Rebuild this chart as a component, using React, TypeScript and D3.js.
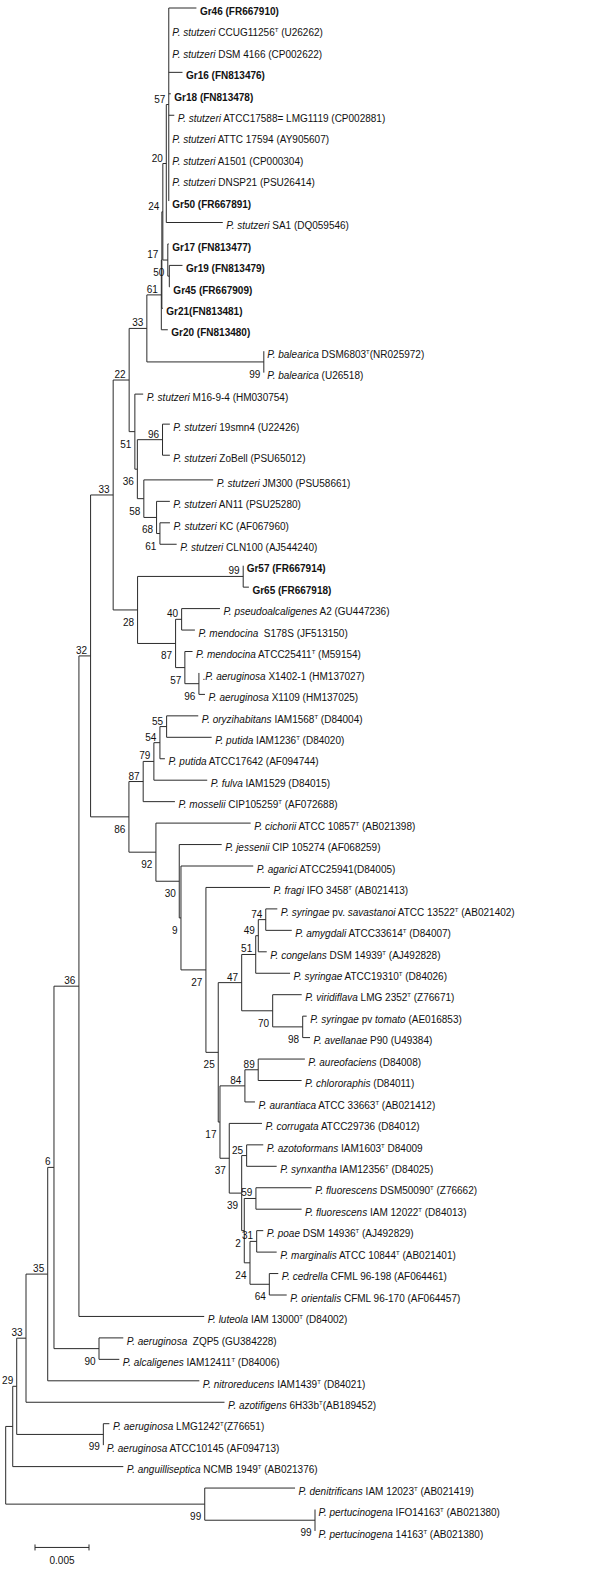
import React, { useMemo } from 'react';
import * as d3 from 'd3';

// ---------------- DATA ----------------
// Leaf labels, in tree order. _..._ = italic, ^T = superscript "T"
const LEAF_LABELS: string[] = [
  'Gr46 (FR667910)',
  '_P. stutzeri_ CCUG11256^T (U26262)',
  '_P. stutzeri_ DSM 4166 (CP002622)',
  'Gr16 (FN813476)',
  'Gr18 (FN813478)',
  '_P. stutzeri_ ATCC17588= LMG1119 (CP002881)',
  '_P. stutzeri_ ATTC 17594 (AY905607)',
  '_P. stutzeri_ A1501 (CP000304)',
  '_P. stutzeri_ DNSP21 (PSU26414)',
  'Gr50 (FR667891)',
  '_P. stutzeri_ SA1 (DQ059546)',
  'Gr17 (FN813477)',
  'Gr19 (FN813479)',
  'Gr45 (FR667909)',
  'Gr21(FN813481)',
  'Gr20 (FN813480)',
  '_P. balearica_ DSM6803^T(NR025972)',
  '_P. balearica_ (U26518)',
  '_P. stutzeri_ M16-9-4 (HM030754)',
  '_P. stutzeri_ 19smn4 (U22426)',
  '_P. stutzeri_ ZoBell (PSU65012)',
  '_P. stutzeri_ JM300 (PSU58661)',
  '_P. stutzeri_ AN11 (PSU25280)',
  '_P. stutzeri_ KC (AF067960)',
  '_P. stutzeri_ CLN100 (AJ544240)',
  'Gr57 (FR667914)',
  'Gr65 (FR667918)',
  '_P. pseudoalcaligenes_ A2 (GU447236)',
  '_P. mendocina_  S178S (JF513150)',
  '_P. mendocina_ ATCC25411^T (M59154)',
  '._P. aeruginosa_ X1402-1 (HM137027)',
  '_P. aeruginosa_ X1109 (HM137025)',
  '_P. oryzihabitans_ IAM1568^T (D84004)',
  '_P. putida_ IAM1236^T (D84020)',
  '_P. putida_ ATCC17642 (AF094744)',
  '_P. fulva_ IAM1529 (D84015)',
  '_P. mosselii_ CIP105259^T (AF072688)',
  '_P. cichorii_ ATCC 10857^T (AB021398)',
  '_P. jessenii_ CIP 105274 (AF068259)',
  '_P. agarici_ ATCC25941(D84005)',
  '_P. fragi_ IFO 3458^T (AB021413)',
  '_P. syringae_ pv. _savastanoi_ ATCC 13522^T (AB021402)',
  '_P. amygdali_ ATCC33614^T (D84007)',
  '_P. congelans_ DSM 14939^T (AJ492828)',
  '_P. syringae_ ATCC19310^T (D84026)',
  '_P. viridiflava_ LMG 2352^T (Z76671)',
  '_P. syringae_ pv _tomato_ (AE016853)',
  '_P. avellanae_ P90 (U49384)',
  '_P. aureofaciens_ (D84008)',
  '_P. chlororaphis_ (D84011)',
  '_P. aurantiaca_ ATCC 33663^T (AB021412)',
  '_P. corrugata_ ATCC29736 (D84012)',
  '_P. azotoformans_ IAM1603^T D84009',
  '_P. synxantha_ IAM12356^T (D84025)',
  '_P. fluorescens_ DSM50090^T (Z76662)',
  '_P. fluorescens_ IAM 12022^T (D84013)',
  '_P. poae_ DSM 14936^T (AJ492829)',
  '_P. marginalis_ ATCC 10844^T (AB021401)',
  '_P. cedrella_ CFML 96-198 (AF064461)',
  '_P. orientalis_ CFML 96-170 (AF064457)',
  '_P. luteola_ IAM 13000^T (D84002)',
  '_P. aeruginosa_  ZQP5 (GU384228)',
  '_P. alcaligenes_ IAM12411^T (D84006)',
  '_P. nitroreducens_ IAM1439^T (D84021)',
  '_P. azotifigens_ 6H33b^T(AB189452)',
  '_P. aeruginosa_ LMG1242^T(Z76651)',
  '_P. aeruginosa_ ATCC10145 (AF094713)',
  '_P. anguilliseptica_ NCMB 1949^T (AB021376)',
  '_P. denitrificans_ IAM 12023^T (AB021419)',
  '_P. pertucinogena_ IFO14163^T (AB021380)',
  '_P. pertucinogena_ 14163^T (AB021380)',
];

// extra vertical spacing (in rows) before some leaves
const ROW_GAPS: [number, number][] = [[19, 0.4], [20, 0.45], [21, 0.15]];

// Tree topology (Newick; leaves Lk = LEAF_LABELS[k]; internal names = bootstrap values; branch lengths in substitutions/site)
const CLADE_STUTZERI_TOP =
  '((((((L0:0.00256,L1:0,L2:0,L3:0.00127,L4:0.00019,L5:0.00051,L6:0,L7:0,L8:0,L9:0)57:0.00023,L10:0.00523)20:0.00032,' +
  '(L11:0.00009,(L12:0.00122,L13:0.00005):0.00014)50:0.00046)24:0.00009,L14:0.00009)17:0.00005,L15:0.0006)61:0.00134,' +
  '(L16:0,L17:0)99:0.01083)33';
const CLADE_STUTZERI_LOW =
  '(L18:0.00077,((L19:0.00068,L20:0.00068)96:0.00233,(L21:0.00642,(L22:0.00123,(L23:0.00093,L24:0.00155)61:0.00031)68:0.00118)58:0.0006)36:0.00023)51';
const CLADE_MENDOCINA =
  '((L25:0,L26:0.00053)99:0.00978,((L27:0.00355,L28:0.00123)40:0.00056,(L29:0.00071,(L30:0,L31:0.00056)96:0.0013)57:0.00086)87:0.00352)28';
const CLADE_SYRINGAE =
  '((((L41:0.00107,L42:0.00241)74:0.00069,L43:0.00078)49:0.00024,L44:0.00318)51:0.0013,(L45:0.00269,(L46:0.00037,L47:0.00068)98:0.00278)70:0.00287)47';
const CLADE_FLUORESCENS =
  '(((L48:0.00432,L49:0.00402)89:0.00123,L50:0.00093)84:0.00231,(L51:0.00303,((L52:0.00154,L53:0.00278)25:0.00046,' +
  '((L54:0.00516,L55:0.00423)59:0.00108,((L56:0.00061,L57:0.00185)31:0.00062,(L58:0.00083,L59:0.00161)64:0.00179)24:0.00053)2:0.00024)39:0.00115)37:0.00086)17';
const CLADE_PUTIDA =
  '(((((L32:0.00293,L33:0.00417)55:0.00062,L34:0.00046)54:0.00056,L35:0.00494)79:0.00099,L36:0.00294)87:0.00132,' +
  '(L37:0.00877,(L38:0.00393,(L39:0.00669,(L40:0.00593,(' + CLADE_SYRINGAE + ':0.00217,' + CLADE_FLUORESCENS +
  ':0.00016)25:0.00114)27:0.00231)9:0.00016)30:0.00216)92:0.0025)86';
const CLADE_MAIN =
  '(((' + CLADE_STUTZERI_TOP + ':0.00164,' + CLADE_STUTZERI_LOW + ':0.00053)22:0.00148,' + CLADE_MENDOCINA +
  ':0.00226)33:0.00209,' + CLADE_PUTIDA + ':0.00355)32';
const NEWICK =
  '(((((((' + CLADE_MAIN + ':0.00108,L60:0.0116)36:0.00231,(L61:0.00225,L62:0.00188)90:0.00417)6:0.00058,L63:0.01404)35:0.00201,' +
  'L64:0.01838)33:0.00086,(L65:0.00056,L66:0)99:0.00802)29:0.00037,L67:0.01024):0.00065,' +
  '(L68:0.00836,(L69:0,L70:0)99:0.01021)99:0.01843);';

const SCALE_BAR_VALUE = 0.005;
const SCALE_BAR_LABEL = '0.005';

// ---------------- HELPERS ----------------
type NNode = { name: string; length: number; children?: NNode[] };

function parseNewick(src: string): NNode {
  const s = src.replace(/\s+/g, '');
  let i = 0;
  function parseNode(depth: number): NNode {
    const node: NNode = { name: '', length: 0 };
    if (depth > 200) return node;
    if (s[i] === '(') {
      i++;
      node.children = [];
      let guard = 0;
      while (i < s.length && guard++ < 1000) {
        const before = i;
        node.children.push(parseNode(depth + 1));
        if (s[i] === ',') { i++; continue; }
        if (s[i] === ')') { i++; break; }
        if (i === before) { i++; }
        if (i >= s.length) break;
      }
    }
    let name = '';
    while (i < s.length && !',():;'.includes(s[i])) name += s[i++];
    node.name = name;
    if (s[i] === ':') {
      i++;
      let num = '';
      while (i < s.length && !',();'.includes(s[i])) num += s[i++];
      node.length = parseFloat(num) || 0;
    }
    return node;
  }
  return parseNode(0);
}

type Seg = { text: string; italic: boolean; sup: boolean };
function segments(label: string): Seg[] {
  const parts = label.split(/(_[^_]+_|\^T)/).filter((p) => p.length > 0);
  return parts.map((p) => {
    if (p === '^T') return { text: 'T', italic: false, sup: true };
    if (p.startsWith('_') && p.endsWith('_') && p.length > 2) return { text: p.slice(1, -1), italic: true, sup: false };
    return { text: p, italic: false, sup: false };
  });
}

const FONT = "Arial, 'Liberation Sans', Helvetica, sans-serif";
const LINE_COLOR = '#2b2b2b';
const TEXT_COLOR = '#111';

export default function App() {
  const width = 605;
  const height = 1570;

  const layout = useMemo(() => {
    const tree = parseNewick(NEWICK);
    const root = d3.hierarchy<NNode>(tree, (d) => d.children);
    const dist = new Map<any, number>();
    root.each((n) => {
      dist.set(n, (n.parent ? dist.get(n.parent)! : 0) + (n.parent ? n.data.length : 0));
    });

    const x = d3.scaleLinear().domain([0, SCALE_BAR_VALUE]).range([5.7, 5.7 + 54]);

    const rowOf = (k: number) => k + ROW_GAPS.filter(([idx]) => idx <= k).reduce((a, [, g]) => a + g, 0);
    const nRows = rowOf(LEAF_LABELS.length - 1);
    const y = d3.scaleLinear().domain([0, nRows]).range([8, 8 + nRows * 21.45]);

    const pos = new Map<any, { x: number; y: number }>();
    root.eachAfter((n) => {
      const px = x(dist.get(n) || 0);
      if (!n.children) {
        const k = parseInt(n.data.name.slice(1), 10) || 0;
        pos.set(n, { x: px, y: y(rowOf(k)) });
      } else {
        const first = pos.get(n.children[0])!;
        const last = pos.get(n.children[n.children.length - 1])!;
        pos.set(n, { x: px, y: (first.y + last.y) / 2 });
      }
    });

    let path = '';
    root.each((n) => {
      const p = pos.get(n)!;
      if (n.parent) {
        const pp = pos.get(n.parent)!;
        path += `M${pp.x},${p.y}H${p.x}`;
      }
      if (n.children) {
        const f = pos.get(n.children[0])!;
        const l = pos.get(n.children[n.children.length - 1])!;
        path += `M${p.x},${f.y}V${l.y}`;
      }
    });

    const leaves = root.leaves().map((n) => {
      const k = parseInt(n.data.name.slice(1), 10) || 0;
      return { k, ...pos.get(n)!, label: LEAF_LABELS[k] || '' };
    });

    const boots: { x: number; y: number; text: string; below: boolean }[] = [];
    root.each((n) => {
      if (n.children && n.data.name && n.parent) {
        const sib = n.parent.children!;
        const below = sib.length > 1 && sib.indexOf(n) === sib.length - 1;
        const p = pos.get(n)!;
        boots.push({ x: p.x, y: p.y, text: n.data.name, below });
      }
    });

    const lastY = y(nRows);
    return { path, leaves, boots, x, lastY };
  }, []);

  const barX0 = 35;
  const barX1 = barX0 + (layout.x(SCALE_BAR_VALUE) - layout.x(0));
  const barY = layout.lastY + 16.5;

  return (
    <div style={{ position: 'absolute', left: 0, top: 0 }}>
      <svg width={width} height={height} style={{ display: 'block', background: '#fff' }}>
        <rect x={0} y={0} width={width} height={height} fill="#fff" />
        <path d={layout.path} fill="none" stroke={LINE_COLOR} strokeWidth={1} />
        <g fontFamily={FONT} fill={TEXT_COLOR}>
          {layout.leaves.map((l) => {
            const bold = l.label.startsWith('Gr');
            const segs = segments(l.label);
            let prevSup = false;
            return (
              <text
                key={l.k}
                x={l.x + 3.5}
                y={l.y + 6.7}
                fontSize={10}
                fontWeight={bold ? 'bold' : 'normal'}
                style={{ whiteSpace: 'pre' }}
              >
                {segs.map((s, i) => {
                  let dy: number | undefined = undefined;
                  if (s.sup) dy = -4;
                  else if (prevSup) dy = 4;
                  prevSup = s.sup;
                  return (
                    <tspan
                      key={i}
                      dy={dy}
                      fontStyle={s.italic ? 'italic' : 'normal'}
                      fontSize={s.sup ? 6 : 10}
                    >
                      {s.text}
                    </tspan>
                  );
                })}
              </text>
            );
          })}
          {layout.boots.map((b, i) => (
            <text
              key={i}
              x={b.x - 3.5}
              y={b.below ? b.y + 16 : b.y - 2}
              fontSize={10}
              textAnchor="end"
            >
              {b.text}
            </text>
          ))}
          <text x={(barX0 + barX1) / 2} y={barY + 16.5} fontSize={10} textAnchor="middle">
            {SCALE_BAR_LABEL}
          </text>
        </g>
        <path
          d={`M${barX0},${barY}H${barX1}M${barX0},${barY - 3}V${barY + 3}M${barX1},${barY - 3}V${barY + 3}`}
          stroke={LINE_COLOR}
          strokeWidth={1}
          fill="none"
        />
      </svg>
    </div>
  );
}
